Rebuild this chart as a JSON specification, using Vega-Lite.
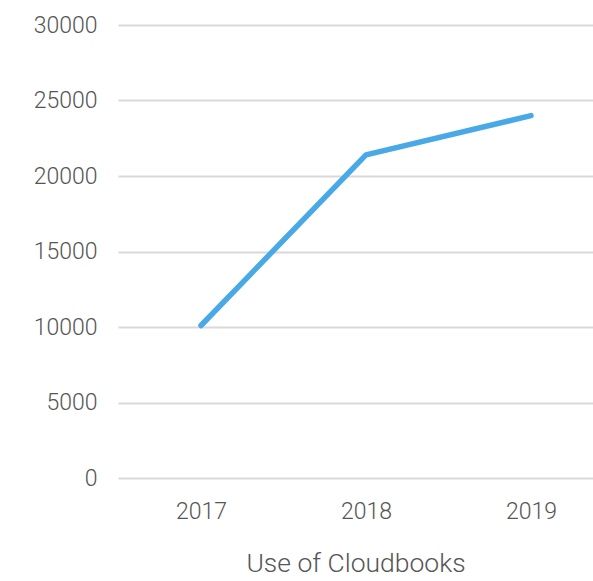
{
  "$schema": "https://vega.github.io/schema/vega-lite/v6.json",
  "autosize": {"type": "none"},
  "padding": {"left": 118, "top": 25, "right": 0, "bottom": 103},
  "width": 475,
  "height": 453,
  "background": "white",
  "config": {
    "view": {"stroke": null},
    "font": "Roboto",
    "axis": {"labelFont": "Roboto", "labelFontWeight": 300, "titleFont": "Roboto", "titleFontWeight": 300}
  },
  "data": {
    "values": [
      {"year": 2017, "value": 10100},
      {"year": 2018, "value": 21400},
      {"year": 2019, "value": 24000}
    ]
  },
  "mark": {"type": "line", "color": "#48a9e6", "strokeWidth": 5.5, "strokeCap": "round", "strokeJoin": "round"},
  "encoding": {
    "x": {
      "field": "year",
      "type": "quantitative",
      "scale": {"domain": [2016.497, 2019.376], "nice": false, "zero": false},
      "axis": {
        "values": [2017, 2018, 2019],
        "format": "d",
        "grid": false,
        "domain": false,
        "ticks": false,
        "labelFontSize": 23,
        "labelColor": "#555555",
        "labelPadding": 22,
        "title": "Use of Cloudbooks",
        "titleFontSize": 26.5,
        "titleColor": "#555555",
        "titlePadding": 27
      }
    },
    "y": {
      "field": "value",
      "type": "quantitative",
      "scale": {"domain": [0, 30000], "nice": false},
      "axis": {
        "values": [0, 5000, 10000, 15000, 20000, 25000, 30000],
        "format": "d",
        "grid": true,
        "gridColor": "#d9d9d9",
        "gridWidth": 2,
        "domain": false,
        "ticks": false,
        "labelFontSize": 23,
        "labelColor": "#555555",
        "labelPadding": 21,
        "title": null
      }
    }
  }
}
